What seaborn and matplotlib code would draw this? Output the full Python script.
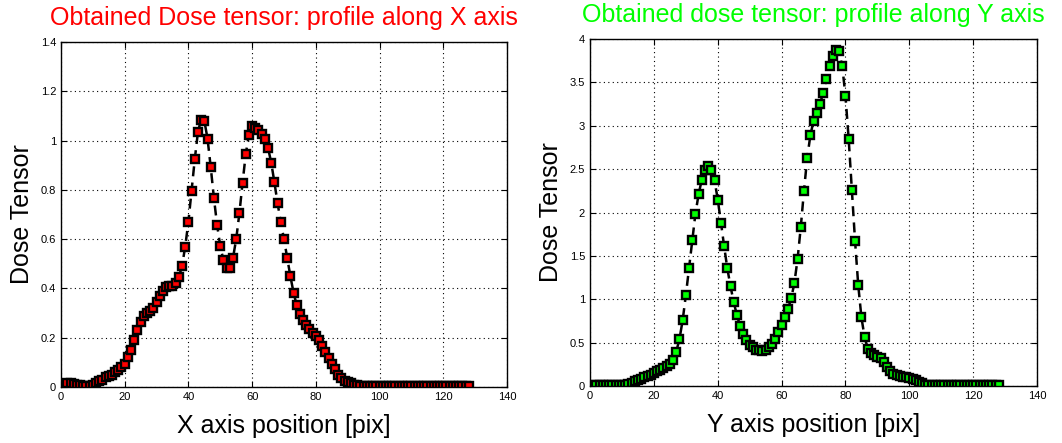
import numpy as np
import pandas as pd
import matplotlib
matplotlib.use("Agg")
import matplotlib.pyplot as plt
from matplotlib.ticker import FormatStrFormatter, MultipleLocator
import seaborn as sns

# -------------------------------
# Data
# -------------------------------
positions = list(range(1, 129))

dose_x = [
    0.010, 0.015, 0.015, 0.012, 0.010, 0.008, 0.005, 0.005, 0.005, 0.010,
    0.018, 0.025, 0.030, 0.040, 0.045, 0.050, 0.060, 0.070, 0.080, 0.095,
    0.120, 0.150, 0.190, 0.230, 0.265, 0.290, 0.300, 0.310, 0.320, 0.345,
    0.370, 0.390, 0.405, 0.410, 0.410, 0.420, 0.447, 0.490, 0.570, 0.670,
    0.797, 0.924, 1.035, 1.085, 1.080, 1.008, 0.893, 0.768, 0.658, 0.572,
    0.514, 0.484, 0.482, 0.524, 0.600, 0.704, 0.828, 0.945, 1.024, 1.058,
    1.052, 1.042, 1.025, 1.005, 0.970, 0.910, 0.830, 0.745, 0.668, 0.600,
    0.524, 0.450, 0.383, 0.332, 0.295, 0.270, 0.250, 0.234, 0.220, 0.208,
    0.190, 0.168, 0.142, 0.118, 0.095, 0.072, 0.050, 0.036, 0.025, 0.020,
    0.015, 0.010, 0.008, 0.006, 0.004, 0.003, 0.003, 0.003, 0.003, 0.003,
    0.003, 0.003, 0.003, 0.003, 0.003, 0.003, 0.003, 0.003, 0.003, 0.003,
    0.003, 0.003, 0.003, 0.003, 0.003, 0.003, 0.003, 0.003, 0.003, 0.003,
    0.003, 0.003, 0.003, 0.003, 0.003, 0.003, 0.003, 0.003,
]

dose_y = [
    0.010, 0.010, 0.010, 0.010, 0.010, 0.010, 0.010, 0.010, 0.010, 0.010,
    0.010, 0.020, 0.040, 0.055, 0.070, 0.080, 0.100, 0.120, 0.130, 0.155,
    0.170, 0.190, 0.210, 0.230, 0.252, 0.300, 0.396, 0.540, 0.756, 1.045,
    1.360, 1.685, 1.985, 2.210, 2.380, 2.490, 2.535, 2.490, 2.370, 2.150,
    1.885, 1.610, 1.355, 1.148, 0.967, 0.815, 0.695, 0.598, 0.525, 0.472,
    0.445, 0.420, 0.410, 0.408, 0.418, 0.445, 0.485, 0.545, 0.625, 0.705,
    0.790, 0.890, 1.010, 1.188, 1.465, 1.832, 2.250, 2.625, 2.890, 3.058,
    3.148, 3.248, 3.382, 3.538, 3.685, 3.805, 3.875, 3.858, 3.685, 3.345,
    2.850, 2.255, 1.672, 1.162, 0.790, 0.560, 0.432, 0.378, 0.352, 0.338,
    0.320, 0.280, 0.220, 0.168, 0.138, 0.125, 0.118, 0.108, 0.100, 0.090,
    0.080, 0.068, 0.050, 0.030, 0.015, 0.010, 0.010, 0.010, 0.010, 0.010,
    0.010, 0.010, 0.010, 0.010, 0.010, 0.010, 0.010, 0.010, 0.010, 0.010,
    0.010, 0.010, 0.010, 0.010, 0.010, 0.010, 0.010, 0.010,
]

sns.set_style("white")
plt.rcParams["font.family"] = ["Liberation Sans", "DejaVu Sans"]
plt.rcParams["text.color"] = "black"
plt.rcParams["axes.labelcolor"] = "black"

fig = plt.figure(figsize=(10.62, 4.43), dpi=100)
ax_x = fig.add_axes([0.0574, 0.1264, 0.42, 0.779])
ax_y = fig.add_axes([0.5556, 0.1287, 0.4209, 0.783])

panels = [
    (ax_x, dose_x, "#ff0000", "#ff0000", "Obtained Dose tensor: profile along X axis",
     "X axis position [pix]", 1.4, 0.2),
    (ax_y, dose_y, "#00ff00", "#00ff00", "Obtained dose tensor: profile along Y axis",
     "Y axis position [pix]", 4.0, 0.5),
]

for ax, vals, face, title_col, title, xlabel, ymax, ystep in panels:
    df = pd.DataFrame({"pos": positions, "dose": vals})
    sns.lineplot(
        data=df, x="pos", y="dose", ax=ax, color="black", linestyle="--",
        linewidth=1.8, marker="s", markersize=6, markerfacecolor=face,
        markeredgecolor="black", markeredgewidth=1.7, estimator=None,
        sort=False,
    )
    ax.lines[0].set_dashes([4, 2.5])
    ax.set_xlim(0, 140)
    ax.set_ylim(0, ymax)
    ax.xaxis.set_major_locator(MultipleLocator(20))
    ax.yaxis.set_major_locator(MultipleLocator(ystep))
    ax.yaxis.set_major_formatter(FormatStrFormatter("%g"))
    ax.xaxis.set_major_formatter(FormatStrFormatter("%g"))
    ax.grid(True, color="black", linestyle=(0, (1, 3)), linewidth=0.8)
    ax.tick_params(direction="in", length=4, labelsize=8, colors="black",
                   top=True, right=True, bottom=True, left=True)
    for sp in ax.spines.values():
        sp.set_color("black")
        sp.set_linewidth(1.0)
    ax.set_title(title, color=title_col, fontsize=18, pad=12)
    ax.set_xlabel(xlabel, fontsize=18, labelpad=9)
    ax.set_ylabel("Dose Tensor", fontsize=18, labelpad=5)

fig.savefig("out.png", dpi=100)
